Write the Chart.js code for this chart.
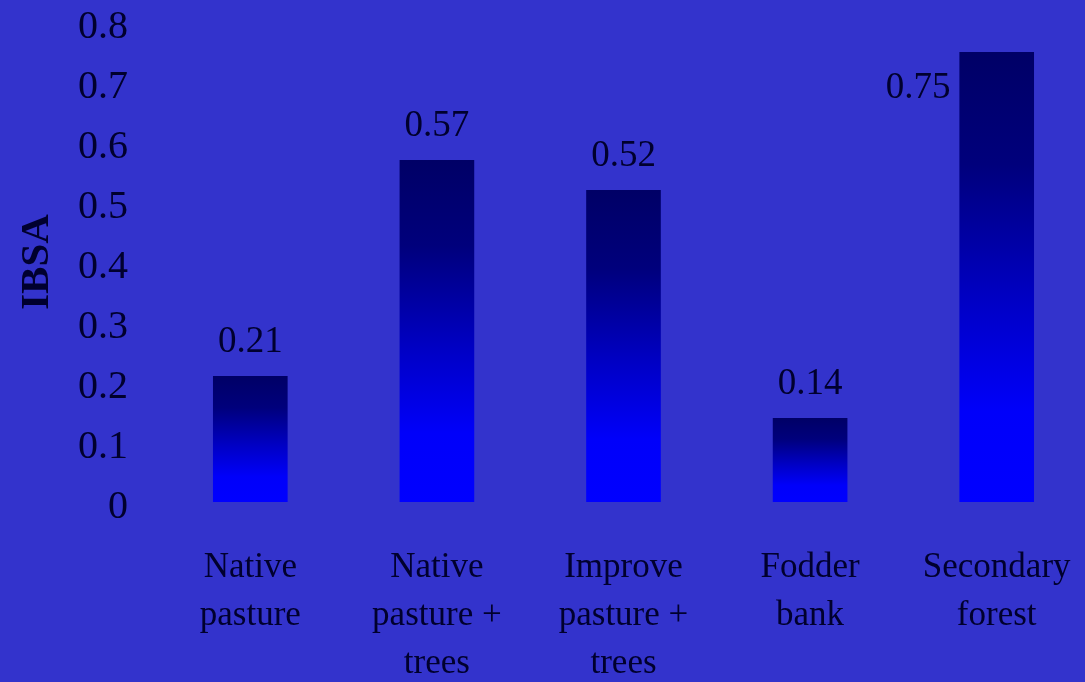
<!DOCTYPE html>
<html>
<head>
<meta charset="utf-8">
<script src="https://cdn.jsdelivr.net/npm/chart.js@4/dist/chart.umd.min.js"></script>
<style>
  html, body { margin: 0; padding: 0; background: #3333cc; overflow: hidden; }
  #wrap { width: 1090px; height: 682px; position: relative; }
</style>
</head>
<body>
<div id="wrap"><canvas id="ibsa-chart"></canvas></div>
<script>
// land uses and their IBSA index
var categories = [
  ['Native', 'pasture'],
  ['Native', 'pasture +', 'trees'],
  ['Improve', 'pasture +', 'trees'],
  ['Fodder', 'bank'],
  ['Secondary', 'forest']
];
var ibsa = [0.21, 0.57, 0.52, 0.14, 0.75];
var valueLabels = ['0.21', '0.57', '0.52', '0.14', '0.75'];
var yMax = 0.8;
var yStep = 0.1;

var ink = '#00002e';
var serif = '"Liberation Serif", "Times New Roman", serif';

// each bar fades from navy at its top to pure blue at its base
function barGradient(ctx) {
  var chart = ctx.chart;
  var y = chart.scales.y;
  if (!y || ctx.dataIndex === undefined) return '#0000ff';
  var top = y.getPixelForValue(ibsa[ctx.dataIndex]);
  var bottom = y.getPixelForValue(0);
  if (!isFinite(top) || !isFinite(bottom) || top === bottom) return '#0000ff';
  var g = chart.ctx.createLinearGradient(0, top, 0, bottom);
  g.addColorStop(0, '#000066');
  g.addColorStop(0.25, '#00007c');
  g.addColorStop(0.55, '#0000c4');
  g.addColorStop(0.8, '#0000fa');
  g.addColorStop(1, '#0000ff');
  return g;
}

// numbers over the bars; the tallest one goes beside the bar
var valuePlugin = {
  id: 'valuePlugin',
  afterDatasetsDraw: function(chart) {
    var ctx = chart.ctx;
    var bars = chart.getDatasetMeta(0).data;
    ctx.save();
    ctx.font = '37px ' + serif;
    ctx.fillStyle = ink;
    ctx.textBaseline = 'middle';
    bars.forEach(function(bar, i) {
      if (bar.y - 50 < chart.chartArea.top) {
        ctx.textAlign = 'right';
        ctx.fillText(valueLabels[i], bar.x - bar.width / 2 - 9, bar.y + 36);
      } else {
        ctx.textAlign = 'center';
        ctx.fillText(valueLabels[i], bar.x, bar.y - 34);
      }
    });
    ctx.restore();
  }
};

new Chart(document.getElementById('ibsa-chart'), {
  type: 'bar',
  data: {
    labels: categories,
    datasets: [{
      data: ibsa,
      backgroundColor: barGradient,
      borderWidth: 0,
      categoryPercentage: 0.8,
      barPercentage: 0.5
    }]
  },
  options: {
    responsive: true,
    maintainAspectRatio: false,
    animation: false,
    layout: { padding: { top: 22, right: 0, left: 0, bottom: 0 } },
    plugins: {
      legend: { display: false },
      tooltip: { enabled: false }
    },
    scales: {
      x: {
        grid: { display: false },
        border: { display: false },
        ticks: {
          color: ink,
          font: { family: serif, size: 35, lineHeight: 1.37 },
          padding: 34,
          maxRotation: 0,
          autoSkip: false
        },
        afterFit: function(scale) {
          scale.height = 180;
          scale.paddingLeft = 0;
          scale.paddingRight = 0;
        }
      },
      y: {
        min: 0,
        max: yMax,
        grid: { display: false },
        border: { display: false },
        ticks: {
          stepSize: yStep,
          color: ink,
          font: { family: serif, size: 40 },
          padding: 21,
          labelOffset: 5
        },
        title: {
          display: true,
          text: 'IBSA',
          color: ink,
          font: { family: serif, size: 41, weight: 'bold' },
          padding: { top: 13, bottom: 0 }
        },
        afterFit: function(scale) {
          scale.width = 157;
          scale.paddingTop = 0;
          scale.paddingBottom = 0;
        }
      }
    }
  },
  plugins: [valuePlugin]
});
</script>
</body>
</html>
